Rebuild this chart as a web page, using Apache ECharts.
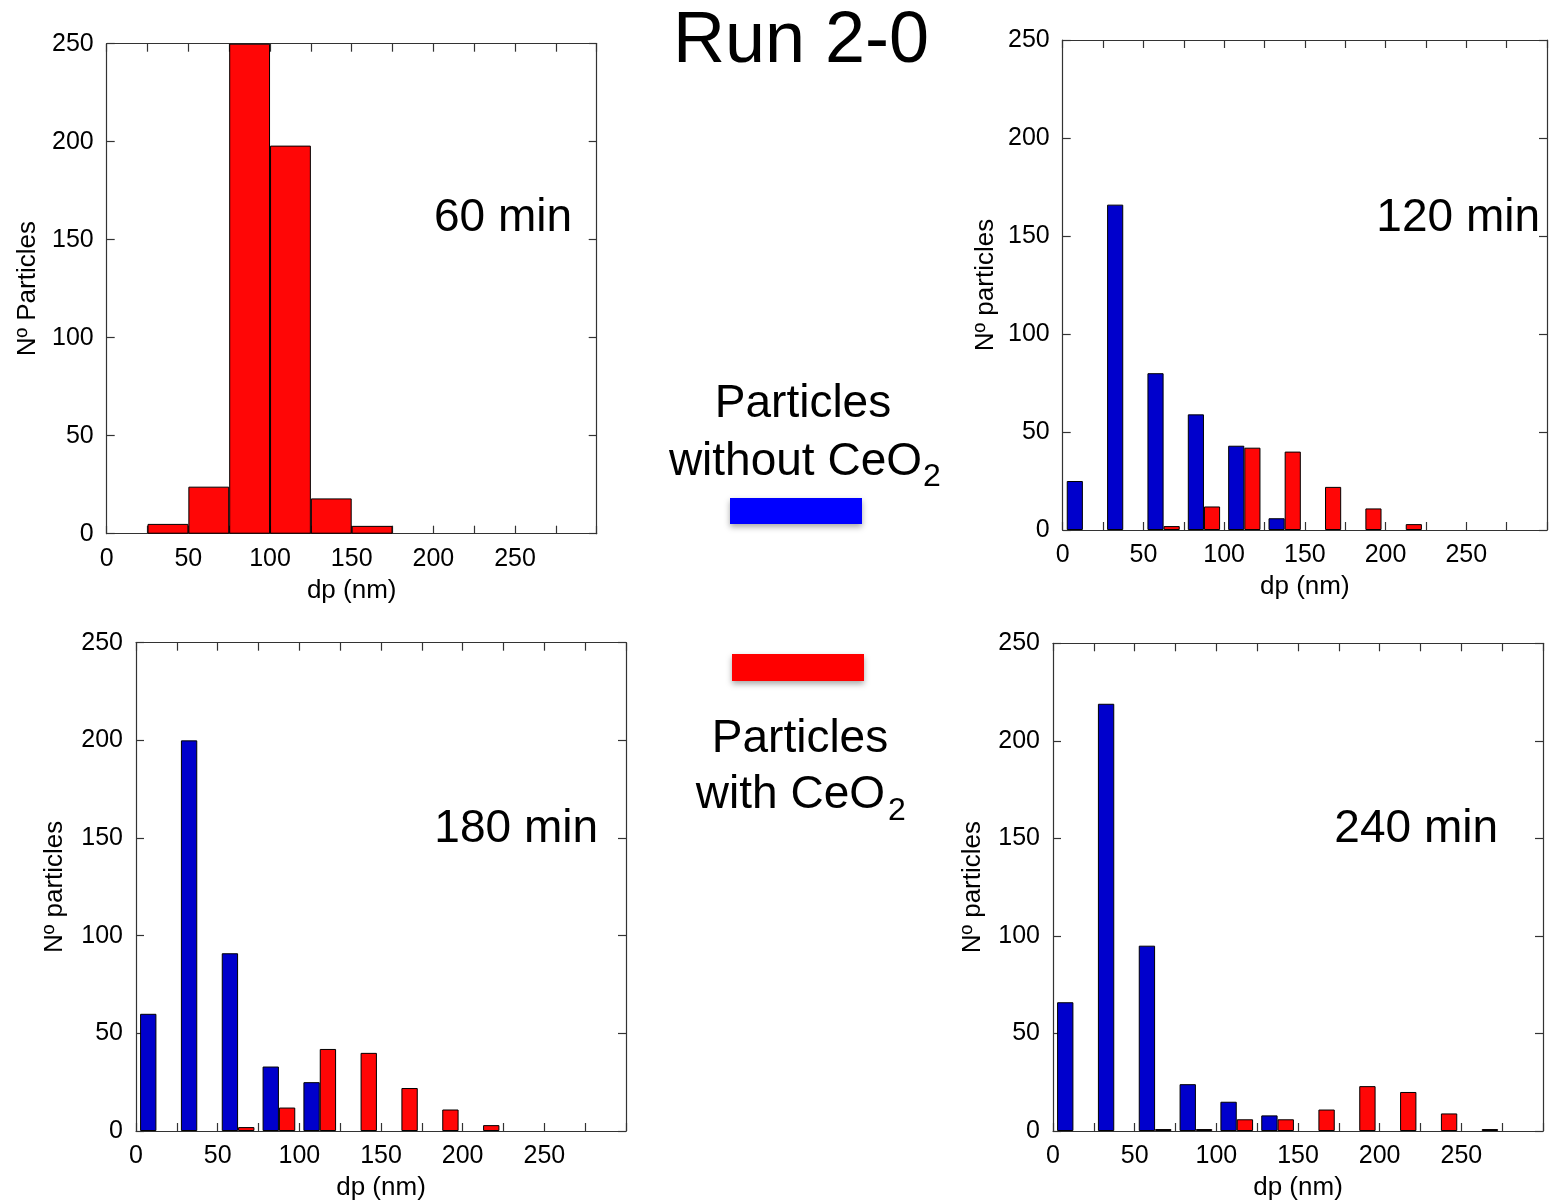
<!DOCTYPE html>
<html>
<head>
<meta charset="utf-8">
<script src="https://cdn.jsdelivr.net/npm/echarts@6/dist/echarts.min.js"></script>
<style>
html,body{margin:0;padding:0;background:#fff;}
#chart{width:1550px;height:1202px;}
</style>
</head>
<body>
<div id="chart"></div>
<script>
// ---- data ----
const bins = ['0-25','25-50','50-75','75-100','100-125','125-150','150-175','175-200','200-225','225-250','250-275','275-300'];
const xTickLabels = [0, 50, 100, 150, 200, 250];
const yTickLabels = [0, 50, 100, 150, 200, 250];
const panelTitles = ['60 min', '120 min', '180 min', '240 min'];
const yNames = ['Nº Particles', 'Nº particles', 'Nº particles', 'Nº particles'];
const xName = 'dp (nm)';

const red60 = [0, 5, 24, 250, 198, 18, 4, 0, 0, 0, 0, 0];

const blue120 = [25, 166, 80, 59, 43, 6, 0, 0, 0, 0, 0, 0];
const red120  = [0, 0, 2, 12, 42, 40, 22, 11, 3, 0, 0, 0];

const blue180 = [60, 200, 91, 33, 25, 0, 0, 0, 0, 0, 0, 0];
const red180  = [0, 0, 2, 12, 42, 40, 22, 11, 3, 0, 0, 0];

const blue240 = [66, 219, 95, 24, 15, 8, 0, 0, 0, 0, 0, 0];
const red240  = [0, 0, 1, 1, 6, 6, 11, 23, 20, 9, 1, 0];

// ---- style ----
const FONT = 'Liberation Sans, Arial, Helvetica, sans-serif';
const BLUE = '#0000cc';
const RED = '#ff0606';
const AX = '#333';

const grids = [
  {left: 106.7, top: 43.7, width: 490, height: 490},
  {left: 1062.7, top: 40, width: 490, height: 490},
  {left: 136, top: 642.7, width: 490, height: 490},
  {left: 1053, top: 643.3, width: 490, height: 490}
];
const yNameGaps = [66, 64, 68, 67];

const xAxes = [], yAxes = [];
grids.forEach((g, i) => {
  xAxes.push({type: 'category', gridIndex: i, data: bins, show: false, boundaryGap: true});
  xAxes.push({
    type: 'value', gridIndex: i, min: 0, max: 300, interval: 25, position: 'bottom',
    axisLine: {show: true, onZero: false, lineStyle: {color: AX, width: 1.2}},
    axisTick: {show: true, inside: true, length: 8, lineStyle: {color: AX, width: 1.2}},
    splitLine: {show: false},
    axisLabel: {
      show: true, margin: 13, fontSize: 25, color: '#000', fontFamily: FONT,
      formatter: v => xTickLabels.indexOf(v) >= 0 ? String(v) : ''
    },
    name: xName, nameLocation: 'middle', nameGap: 44,
    nameTextStyle: {fontSize: 26, color: '#000', fontFamily: FONT}
  });
  xAxes.push({
    type: 'value', gridIndex: i, min: 0, max: 300, interval: 25, position: 'top',
    axisLine: {show: true, onZero: false, lineStyle: {color: AX, width: 1.2}},
    axisTick: {show: true, inside: true, length: 8, lineStyle: {color: AX, width: 1.2}},
    splitLine: {show: false}, axisLabel: {show: false}
  });
  yAxes.push({
    type: 'value', gridIndex: i, min: 0, max: 250, interval: 50, position: 'left',
    axisLine: {show: true, onZero: false, lineStyle: {color: AX, width: 1.2}},
    axisTick: {show: true, inside: true, length: 8, lineStyle: {color: AX, width: 1.2}},
    splitLine: {show: false},
    axisLabel: {
      show: true, margin: 13, fontSize: 25, color: '#000', fontFamily: FONT,
      formatter: v => yTickLabels.indexOf(v) >= 0 ? String(v) : ''
    },
    name: yNames[i], nameLocation: 'middle', nameGap: yNameGaps[i],
    nameTextStyle: {fontSize: 26, color: '#000', fontFamily: FONT}
  });
  yAxes.push({
    type: 'value', gridIndex: i, min: 0, max: 250, interval: 50, position: 'right',
    axisLine: {show: true, onZero: false, lineStyle: {color: AX, width: 1.2}},
    axisTick: {show: true, inside: true, length: 8, lineStyle: {color: AX, width: 1.2}},
    splitLine: {show: false}, axisLabel: {show: false}
  });
});

function bar(i, data, color, width) {
  return {
    type: 'bar', xAxisIndex: 3 * i, yAxisIndex: 2 * i,
    data: data.map(v => (v === 0 ? '-' : v)),
    barWidth: width, barGap: '0%',
    itemStyle: {color: color, borderColor: '#000', borderWidth: 1},
    emphasis: {disabled: true}, animation: false
  };
}

const series = [
  bar(0, red60, RED, '100%'),
  bar(1, blue120, BLUE, '40%'), bar(1, red120, RED, '40%'),
  bar(2, blue180, BLUE, '40%'), bar(2, red180, RED, '40%'),
  bar(3, blue240, BLUE, '40%'), bar(3, red240, RED, '40%')
];

function txt(text, x, y, size, align, va) {
  return {type: 'text', x: x, y: y, z: 100, silent: true,
    style: {text: text, fontSize: size, fontFamily: FONT, fill: '#000', align: align, verticalAlign: va || 'middle'}};
}

const graphic = [
  txt('Run 2-0', 801, 42, 72, 'center'),
  txt(panelTitles[0], 572, 218, 46, 'right'),
  txt(panelTitles[1], 1540, 218, 46, 'right'),
  txt(panelTitles[2], 598, 829, 46, 'right'),
  txt(panelTitles[3], 1498, 829, 46, 'right'),
  txt('Particles', 803, 404, 46, 'center'),
  txt('without CeO', 922, 462, 46, 'right'),
  txt('2', 923, 477, 32, 'left'),
  txt('Particles', 800, 739, 46, 'center'),
  txt('with CeO', 885, 795, 46, 'right'),
  txt('2', 888, 811, 32, 'left'),
  {type: 'rect', shape: {x: 730, y: 498, width: 132, height: 26}, z: 100, silent: true,
   style: {fill: '#0000ff', shadowBlur: 6, shadowOffsetY: 3, shadowColor: 'rgba(0,0,0,0.35)'}},
  {type: 'rect', shape: {x: 732, y: 654, width: 132, height: 27}, z: 100, silent: true,
   style: {fill: '#ff0000', shadowBlur: 6, shadowOffsetY: 3, shadowColor: 'rgba(0,0,0,0.35)'}}
];

const chart = echarts.init(document.getElementById('chart'), null, {renderer: 'canvas'});
chart.setOption({
  backgroundColor: '#fff',
  animation: false,
  textStyle: {fontFamily: FONT},
  grid: grids.map(g => Object.assign({containLabel: false}, g)),
  xAxis: xAxes,
  yAxis: yAxes,
  series: series,
  graphic: graphic
});
</script>
</body>
</html>
